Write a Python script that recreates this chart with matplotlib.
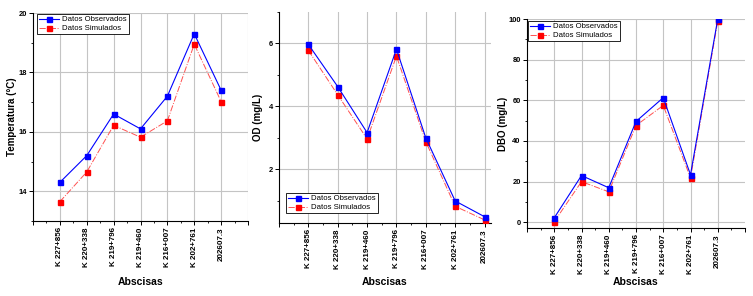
import matplotlib
matplotlib.use("Agg")
import matplotlib.pyplot as plt
from matplotlib.ticker import FixedLocator, MultipleLocator, NullFormatter

plt.rcParams['font.family'] = ['Liberation Sans', 'DejaVu Sans']

cats_temp = ["K 227+856", "K 220+338", "K 219+796", "K 219+460", "K 216+007", "K 202+761", "202607.3"]
cats_od = ["K 227+856", "K 220+338", "K 219+460", "K 219+796", "K 216+007", "K 202+761", "202607.3"]
cats_dbo = ["K 227+856", "K 220+338", "K 219+460", "K 219+796", "K 216+007", "K 202+761", "202607.3"]

temp_obs = [14.3, 15.2, 16.6, 16.1, 17.2, 19.3, 17.4]
temp_sim = [13.65, 14.65, 16.22, 15.82, 16.37, 18.95, 17.02]

od_obs = [5.97, 4.63, 3.17, 5.82, 3.0, 1.0, 0.5]
od_sim = [5.78, 4.37, 2.97, 5.6, 2.88, 0.83, 0.4]

dbo_obs = [2.2, 23.0, 17.0, 49.6, 61.3, 23.4, 100.0]
dbo_sim = [0.3, 20.0, 15.0, 47.6, 57.5, 21.8, 98.9]

W, H = 753, 296
fig = plt.figure(figsize=(W / 100, H / 100), dpi=100)


def make_ax(l, r, t, b):
    return fig.add_axes([l / W, 1 - b / H, (r - l) / W, (b - t) / H])


def draw(ax, cats, obs, sim, ylim, yticks, yminor, xmax, ylabel,
         leg_xy, ylabel_x, xlabel_y, grid_at_end=False):
    x = list(range(1, len(cats) + 1))
    ax.plot(x, obs, color='#0000ff', lw=0.8, marker='s', ms=3.6,
            mfc='#0000ff', mec='#0000ff', label='Datos Observados', zorder=4)
    ax.plot(x, sim, color='#ff5050', lw=0.7, ls='-.', marker='s', ms=3.6,
            mfc='#ff0000', mec='#ff0000', label='Datos Simulados', zorder=3)
    ax.set_xlim(0, xmax)
    ax.set_ylim(*ylim)
    # grid
    for xi in x:
        ax.axvline(xi, color='#c4c4c4', lw=0.8, zorder=1)
    if grid_at_end:
        ax.axvline(xmax, color='#c4c4c4', lw=0.8, zorder=1)
    for yi in yticks:
        ax.axhline(yi, color='#c4c4c4', lw=0.8, zorder=1)
    majors = list(range(0, int(xmax) + 1))
    ax.xaxis.set_major_locator(FixedLocator(majors))
    labels = [''] + list(cats) + [''] * (len(majors) - len(cats) - 1)
    ax.set_xticklabels(labels[:len(majors)], rotation=90, fontsize=5.8,
                       fontweight='bold')
    ax.xaxis.set_minor_locator(MultipleLocator(0.5))
    ax.set_yticks(yticks)
    ax.set_yticklabels([str(v) for v in yticks], fontsize=5.4, fontweight='bold')
    ax.yaxis.set_minor_locator(MultipleLocator(yminor))
    ax.tick_params(axis='both', which='major', direction='out', length=3,
                   width=0.7, pad=1.5)
    ax.tick_params(axis='both', which='minor', direction='out', length=1.6,
                   width=0.6)
    for s in ['top', 'right']:
        ax.spines[s].set_visible(False)
    for s in ['left', 'bottom']:
        ax.spines[s].set_linewidth(0.8)
    ax.set_ylabel(ylabel, fontsize=7, fontweight='bold')
    ax.set_xlabel('Abscisas', fontsize=7.5, fontweight='bold')
    ax.yaxis.set_label_coords(*ylabel_x)
    ax.xaxis.set_label_coords(*xlabel_y)
    leg = ax.legend(loc='upper left',
                    bbox_to_anchor=(leg_xy[0] / W, 1 - leg_xy[1] / H),
                    bbox_transform=fig.transFigure, fontsize=5.6,
                    frameon=True, fancybox=False, borderaxespad=0,
                    handlelength=2.6, handletextpad=0.4, borderpad=0.25,
                    labelspacing=0.2)
    leg.get_frame().set_edgecolor('black')
    leg.get_frame().set_linewidth(0.6)
    leg.get_frame().set_alpha(1)


ax1 = make_ax(33, 248, 13, 221)
draw(ax1, cats_temp, temp_obs, temp_sim, (13, 20), [14, 16, 18, 20], 1, 8,
     'Temperatura (°C)', (37, 14), (-0.075, 0.5), (0.5, -0.27), grid_at_end=True)

ax2 = make_ax(279, 491, 12, 223)
draw(ax2, cats_od, od_obs, od_sim, (0.3, 7.0), [2, 4, 6], 1, 7.22,
     'OD (mg/L)', (286, 193), (-0.075, 0.5), (0.5, -0.255))

ax3 = make_ax(527, 745, 19, 228)
draw(ax3, cats_dbo, dbo_obs, dbo_sim, (-2.8, 100), [0, 20, 40, 60, 80, 100], 10, 8,
     'DBO (mg/L)', (528, 21), (-0.085, 0.5), (0.5, -0.235))

fig.savefig('out.png', dpi=100)
